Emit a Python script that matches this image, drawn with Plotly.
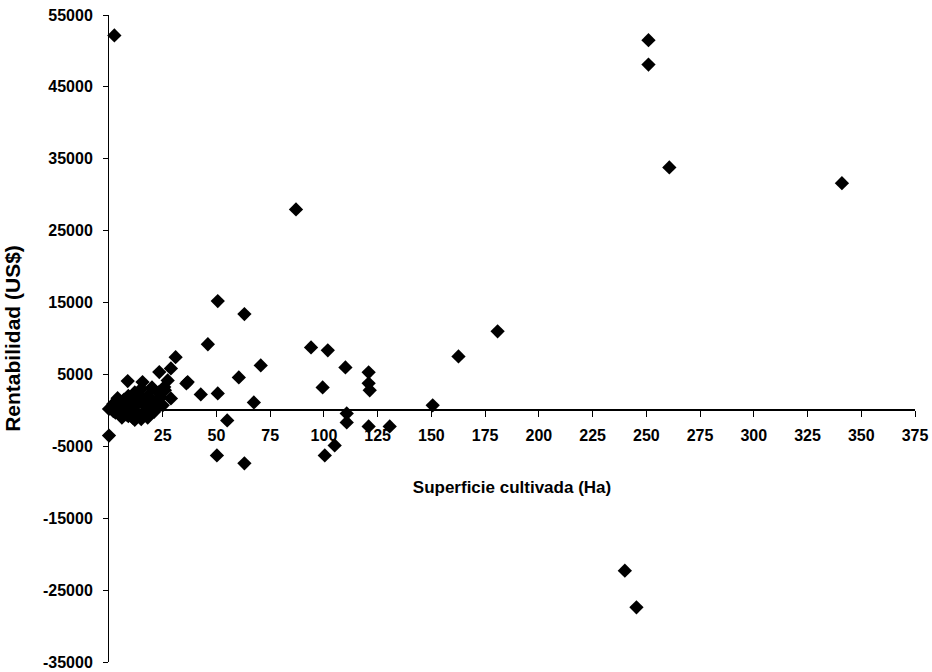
import plotly.graph_objects as go

# Superficie cultivada (Ha)
x_ha = [2.5, 251, 251, 260.7, 341, 87, 180.8, 162.6, 50.6, 63, 46, 94, 101.8, 70.6, 110, 120.8,
        120.8, 121.3, 99.4, 60.4, 50.6, 42.7, 36, 67.4, 55, 110.6, 110.6, 120.8, 130.6, 50.2,
        63, 100.4, 105, 150.6, 240, 245.4, 0,
        8.7, 15.6, 23.4, 31, 28.8, 36.6, 28.8, 25.7, 27.3,
        0, 1, 2, 3, 3, 4, 5, 5, 6, 7, 7, 8, 9, 9, 10, 10, 11, 12, 12, 13, 14, 15, 15, 16, 17,
        18, 18, 19, 20, 21, 22, 23, 24, 25, 26, 20, 14, 8, 6, 12, 17, 2, 19, 22, 4]
# Rentabilidad (US$)
y_usd = [52160, 51500, 48100, 33800, 31600, 27960, 11000, 7500, 15200, 13400, 9200, 8760, 8350, 6260, 5980, 5290,
         3760, 2800, 3200, 4590, 2360, 2220, 3750, 1110, -1390, -420, -1670, -2230, -2230, -6260,
         -7370, -6260, -4870, 700, -22300, -27400, -3500,
         4080, 3940, 5330, 7400, 5840, 3940, 1670, 3240, 4170,
         200, 300, 900, -300, 800, 1200, 300, -500, 1000, -200, 1500, 600, -800, 2000, 200, 1200,
         -1000, 2500, 500, -500, 1500, -1200, 3000, 800, -300,
         2000, -1000, 500, 1500, -200, 1000, 2500, 1800, 700, 2800, 3200, 2200, -600, -1000, -1300, 1200, -100, -600, 400, 1700]

x_ticks = [25, 50, 75, 100, 125, 150, 175, 200, 225, 250, 275, 300, 325, 350, 375]
x_tick_text = ["<b>%d</b>" % v for v in x_ticks]
y_ticks = [-35000, -25000, -15000, -5000, 5000, 15000, 25000, 35000, 45000, 55000]
y_tick_text = ["<b>%d</b>" % v for v in y_ticks]

FAM = "Liberation Sans, Arial, sans-serif"

fig = go.Figure()
fig.add_trace(go.Scatter(
    x=x_ha, y=y_usd, mode="markers",
    marker=dict(symbol="diamond", size=11, color="black"),
    cliponaxis=False, showlegend=False,
))

fig.update_layout(
    width=932, height=672,
    margin=dict(l=109, r=17, t=15, b=10),
    plot_bgcolor="white", paper_bgcolor="white",
    font=dict(family=FAM, size=13, color="black"),
    xaxis=dict(
        range=[0, 375], tickvals=x_ticks, ticktext=x_tick_text,
        showgrid=False, zeroline=False, showline=True, linecolor="black", linewidth=1.5,
        ticks="outside", ticklen=6, tickcolor="black", ticklabelstandoff=5,
        anchor="free", position=35000 / 90000, automargin=False,
        tickfont=dict(family=FAM, size=16, color="black"),
        title=dict(text="<b>Superficie cultivada (Ha)</b>", standoff=37,
                   font=dict(family=FAM, size=17, color="black")),
    ),
    yaxis=dict(
        range=[-35000, 55000], tickvals=y_ticks, ticktext=y_tick_text,
        showgrid=False, zeroline=False, showline=True, linecolor="black", linewidth=1,
        ticks="outside", ticklen=5, tickcolor="black", automargin=False, ticklabelstandoff=7,
        tickfont=dict(family=FAM, size=16, color="black"),
        title=dict(text="<b>Rentabilidad (US$)</b>", standoff=16,
                   font=dict(family=FAM, size=21, color="black")),
    ),
)

fig.write_html("out.html")
